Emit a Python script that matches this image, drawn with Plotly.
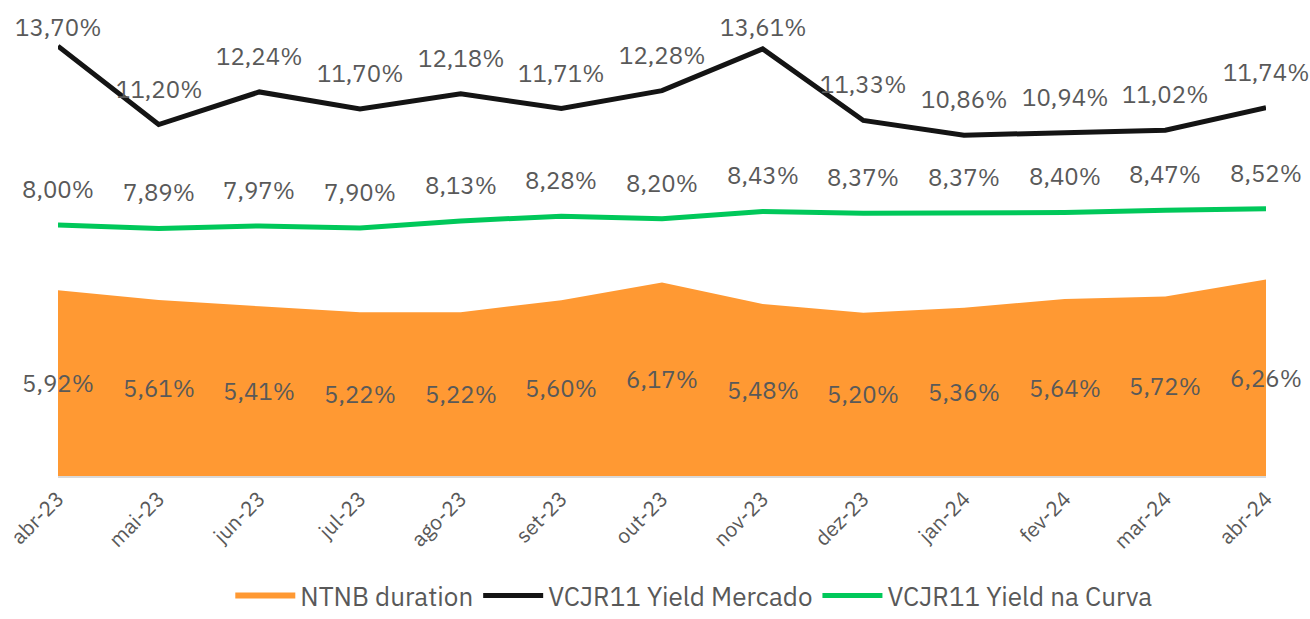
import plotly.graph_objects as go

months = ["abr-23", "mai-23", "jun-23", "jul-23", "ago-23", "set-23", "out-23",
          "nov-23", "dez-23", "jan-24", "fev-24", "mar-24", "abr-24"]
ntnb = [5.92, 5.61, 5.41, 5.22, 5.22, 5.60, 6.17, 5.48, 5.20, 5.36, 5.64, 5.72, 6.26]
mercado = [13.70, 11.20, 12.24, 11.70, 12.18, 11.71, 12.28, 13.61, 11.33, 10.86, 10.94, 11.02, 11.74]
curva = [8.00, 7.89, 7.97, 7.90, 8.13, 8.28, 8.20, 8.43, 8.37, 8.37, 8.40, 8.47, 8.52]

FONT = "IBM Plex Sans, Open Sans, sans-serif"
TXT = "#595959"
ORANGE = "#FF9933"
BLACK = "#141414"
GREEN = "#00C85A"

W, H = 1310, 619
M = dict(l=58, r=44, t=21, b=143)
YMAX = 14.5
plot_h = H - M["t"] - M["b"]

def fmt(v):
    return f"{v:.2f}".replace(".", ",") + "%"

fig = go.Figure()
fig.add_trace(go.Scatter(x=months, y=ntnb, name="NTNB duration", mode="none",
                         fill="tozeroy", fillcolor=ORANGE))
fig.add_trace(go.Scatter(x=months, y=mercado, name="VCJR11 Yield Mercado", mode="lines",
                         line=dict(color=BLACK, width=5)))
fig.add_trace(go.Scatter(x=months, y=curva, name="VCJR11 Yield na Curva", mode="lines",
                         line=dict(color=GREEN, width=5)))

annotations = []
for m, v in zip(months, ntnb):
    annotations.append(dict(x=m, y=v / 2, text=fmt(v), showarrow=False,
                            font=dict(family=FONT, size=24, color=TXT)))
for series in (mercado, curva):
    for m, v in zip(months, series):
        px_from_top = (YMAX - v) / YMAX * plot_h
        shift = min(36, px_from_top - 6)
        annotations.append(dict(x=m, y=v, text=fmt(v), showarrow=False, yshift=shift,
                                font=dict(family=FONT, size=24, color=TXT)))

fig.update_layout(
    width=W, height=H, margin=M,
    paper_bgcolor="white", plot_bgcolor="white",
    font=dict(family=FONT, color=TXT),
    showlegend=True,
    legend=dict(orientation="h", x=0.53, xanchor="center", xref="container",
                y=0, yanchor="bottom", yref="container",
                font=dict(family=FONT, size=26, color=TXT),
                itemwidth=60, tracegroupgap=0),
    annotations=annotations,
)
fig.update_xaxes(type="category", range=[0, len(months) - 1], showgrid=False,
                 showline=True, linecolor="#D9D9D9", linewidth=2, automargin=False,
                 tickangle=-45, tickfont=dict(family=FONT, size=21, color=TXT),
                 ticks="", zeroline=False)
fig.update_yaxes(range=[0, YMAX], visible=False, showgrid=False, zeroline=False,
                 automargin=False)

fig.write_html("out.html", config={"displayModeBar": False},
               post_script="document.body.style.margin='0';")
